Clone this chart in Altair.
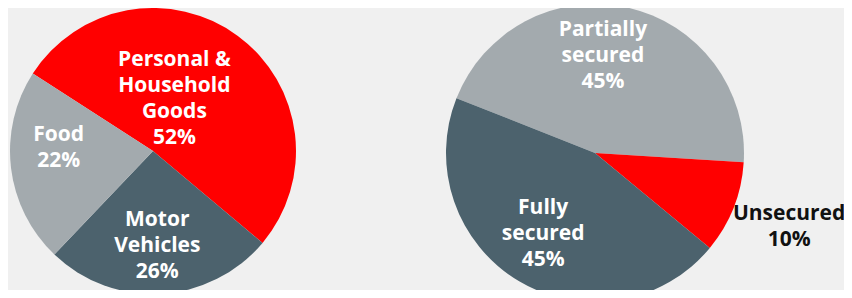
import math
import altair as alt
import pandas as pd

# ---- data -------------------------------------------------------------
left_categories = ["Personal &\nHousehold\nGoods", "Motor\nVehicles", "Food"]
left_values = [52, 26, 22]
left_colors = ["#FF0000", "#4C626D", "#A3AAAE"]

right_categories = ["Partially\nsecured", "Unsecured", "Fully\nsecured"]
right_values = [45, 10, 45]
right_colors = ["#A3AAAE", "#FF0000", "#4C626D"]


def make_df(cats, vals, cols):
    return pd.DataFrame({
        "category": cats,
        "value": vals,
        "order": list(range(len(cats))),
        "color": cols,
        "label": [f"{c}\n{v}%" for c, v in zip(cats, vals)],
    })


FONT = "Open Sans"
LH = 26


def pie(df, cx, cy, r, start_deg, label_specs):
    start = math.radians(start_deg)
    scale = alt.Scale(domain=[0, 100], range=[start, start + 2 * math.pi])
    base = alt.Chart(df)
    arcs = base.mark_arc(outerRadius=r).encode(
        x=alt.value(cx),
        y=alt.value(cy),
        theta=alt.Theta("value:Q", scale=scale, stack=True),
        order=alt.Order("order:Q"),
        color=alt.Color("color:N", scale=None),
    )
    layers = [arcs]
    mids = base.transform_window(
        cum="sum(value)", sort=[alt.SortField("order")], frame=[None, 0]
    ).transform_calculate(mid="datum.cum - datum.value / 2")
    for cat, rr, dx, dy, col in label_specs:
        nlines = cat.count("\n") + 2
        layers.append(
            mids.transform_filter(alt.datum.category == cat)
            .mark_text(
                font=FONT, fontSize=21, fontWeight="bold", lineBreak="\n",
                lineHeight=LH, align="center", baseline="middle",
                dx=dx, dy=dy - (nlines - 1) * LH / 2, color=col,
            )
            .encode(
                x=alt.value(cx),
                y=alt.value(cy),
                theta=alt.Theta("mid:Q", scale=scale, stack=False),
                radius=alt.value(rr),
                text="label:N",
            )
        )
    return layers


left_layers = pie(
    make_df(left_categories, left_values, left_colors), 145, 143, 143, -57.2,
    [
        (left_categories[0], 95, -35, 24, "white"),
        (left_categories[1], 95, -1, 0, "white"),
        (left_categories[2], 95, 0, -14, "white"),
    ],
)
right_layers = pie(
    make_df(right_categories, right_values, right_colors), 587, 145, 149, -68.4,
    [
        (right_categories[0], 96, -13, -3, "white"),
        (right_categories[1], 212, -3, -4, "#111111"),
        (right_categories[2], 96, -3, -2, "white"),
    ],
)

chart = (
    alt.layer(*left_layers, *right_layers)
    .resolve_scale(theta="independent")
    .properties(width=836, height=282, padding=0,
                autosize=alt.AutoSizeParams(type="none"),
                background="#F0F0F0")
    .configure_view(stroke=None)
)

chart.save("out.html", embed_options={"renderer": "svg", "actions": False})
